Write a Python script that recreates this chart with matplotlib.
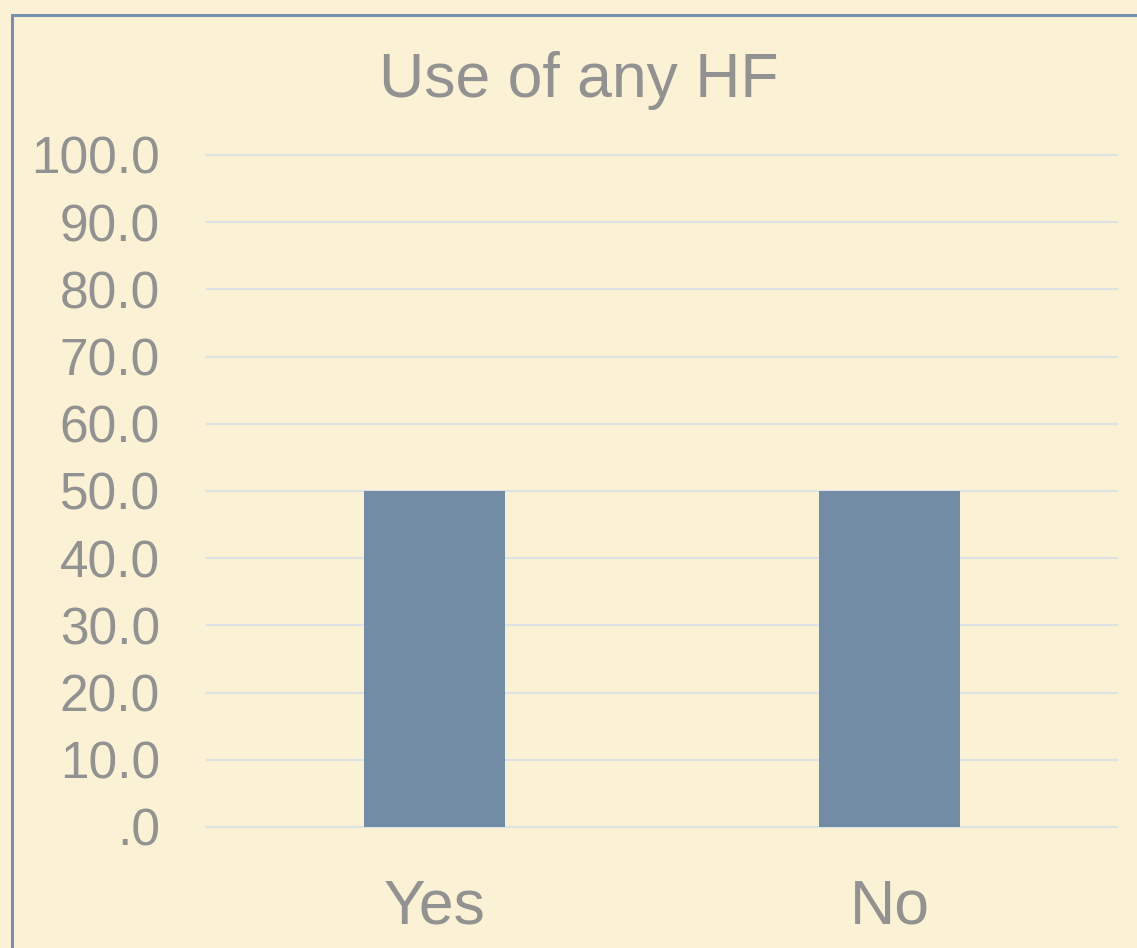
import matplotlib.pyplot as plt
from matplotlib.patches import Rectangle

categories = ["Yes", "No"]
values = [50.0, 50.0]
yticks = [0, 10, 20, 30, 40, 50, 60, 70, 80, 90, 100]

BG = "#FBF1D4"
BAR = "#728CA6"
TEXT = "#929292"
GRID = "#DCE2E6"

W, H = 1137, 948
fig = plt.figure(figsize=(W / 100, H / 100), dpi=100, facecolor=BG)
plt.rcParams["font.family"] = ["Liberation Sans", "DejaVu Sans"]

# outer frame (runs off the right and bottom edge)
fig.patches.append(Rectangle((12 / W, -0.1), 1.2, 1 - 15 / H + 0.1,
                             transform=fig.transFigure, fill=False,
                             edgecolor="#7590B0", linewidth=2.2, clip_on=False))

ax = fig.add_axes([207 / W, 1 - 827 / H, 910 / W, 672 / H])
ax.set_facecolor("none")
x = range(len(categories))
ax.bar(x, values, width=0.312, color=BAR, zorder=3)
ax.set_xlim(-0.5, 1.5)
ax.set_ylim(0, 100)
ax.set_yticks(yticks)
ax.set_yticklabels(["%.1f" % v if v else ".0" for v in yticks])
ax.set_xticks(list(x))
ax.set_xticklabels(categories)
ax.grid(axis="y", color=GRID, linewidth=1.5, zorder=0)
for gl in ax.get_ygridlines():
    gl.set_clip_on(False)
for s in ax.spines.values():
    s.set_visible(False)
ax.tick_params(axis="y", length=0, pad=34, labelsize=37, labelcolor=TEXT)
ax.tick_params(axis="x", length=0, pad=36, labelsize=45, labelcolor=TEXT)

fig.text(579 / W, 1 - 97 / H, "Use of any HF", ha="center", va="baseline",
         fontsize=45, color=TEXT)

fig.savefig("out.png", dpi=100, facecolor=BG)
